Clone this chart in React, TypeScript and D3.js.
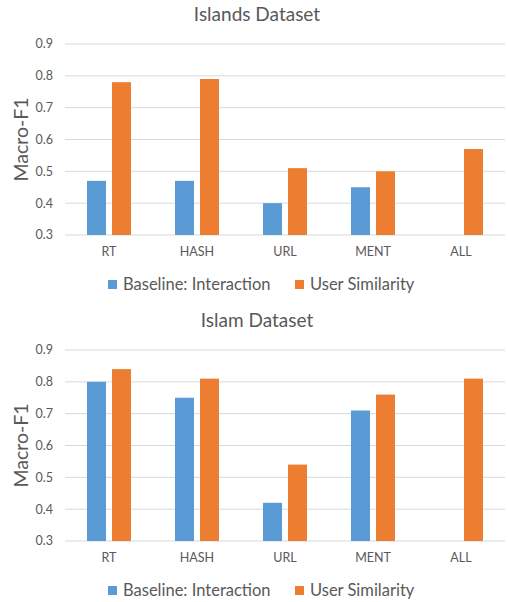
import React, { useEffect, useRef } from "react";
import * as d3 from "d3";

const categories = ["RT", "HASH", "URL", "MENT", "ALL"];
const seriesNames = ["Baseline: Interaction", "User Similarity"];
const yTicks = [0.3, 0.4, 0.5, 0.6, 0.7, 0.8, 0.9];

const islandsBaseline: (number | null)[] = [0.47, 0.47, 0.4, 0.45, null];
const islandsUser: (number | null)[] = [0.78, 0.79, 0.51, 0.5, 0.57];
const islamBaseline: (number | null)[] = [0.8, 0.75, 0.42, 0.71, null];
const islamUser: (number | null)[] = [0.84, 0.81, 0.54, 0.76, 0.81];

const colors = ["#5B9BD5", "#ED7D31"];
const FONT = "Lato, 'Open Sans', sans-serif";
const TEXT = "#595959";

function drawChart(
  g: d3.Selection<SVGGElement, unknown, null, undefined>,
  title: string,
  baseline: (number | null)[],
  user: (number | null)[]
) {
  const left = 65, right = 505, top = 44, bottom = 235;
  const x0 = d3.scaleBand<string>().domain(categories).range([left, right]).padding(0);
  const groupW = 44;
  const x1 = d3.scaleBand<string>().domain(seriesNames).range([0, groupW]).paddingInner(0.24);
  const y = d3.scaleLinear().domain([0.3, 0.9]).range([bottom, top]);

  g.append("text")
    .attr("x", 257).attr("y", 21)
    .attr("text-anchor", "middle")
    .attr("font-family", FONT).attr("font-size", 19)
    .attr("fill", TEXT)
    .text(title);

  g.selectAll(".grid").data(yTicks).enter().append("line")
    .attr("x1", left).attr("x2", right)
    .attr("y1", (d) => y(d)).attr("y2", (d) => y(d))
    .attr("stroke", "#D9D9D9").attr("stroke-width", 1);

  g.selectAll(".ytick").data(yTicks).enter().append("text")
    .attr("x", 53).attr("y", (d) => y(d))
    .attr("dy", "0.35em")
    .attr("text-anchor", "end")
    .attr("font-family", FONT).attr("font-size", 12.5)
    .attr("fill", TEXT)
    .text((d) => d3.format(".1f")(d));

  g.append("text")
    .attr("transform", `translate(28,${(top + bottom) / 2}) rotate(-90)`)
    .attr("text-anchor", "middle")
    .attr("font-family", FONT).attr("font-size", 19.5)
    .attr("fill", TEXT)
    .text("Macro-F1");

  const all = [baseline, user];
  all.forEach((vals, si) => {
    const rows = categories.map((c, i) => ({ c, v: vals[i] })).filter((r) => r.v != null);
    g.selectAll(`.bar${si}`).data(rows).enter().append("rect")
      .attr("x", (d) => (x0(d.c) as number) + (x0.bandwidth() - groupW) / 2 + (x1(seriesNames[si]) as number))
      .attr("y", (d) => y(d.v as number))
      .attr("width", x1.bandwidth())
      .attr("height", (d) => bottom - y(d.v as number))
      .attr("fill", colors[si]);
  });

  g.selectAll(".xl").data(categories).enter().append("text")
    .attr("x", (d) => (x0(d) as number) + x0.bandwidth() / 2)
    .attr("y", 256)
    .attr("text-anchor", "middle")
    .attr("font-family", FONT).attr("font-size", 12.5)
    .attr("fill", TEXT)
    .text((d) => d);

  const legendX = [108, 295];
  seriesNames.forEach((s, i) => {
    g.append("rect")
      .attr("x", legendX[i]).attr("y", 280)
      .attr("width", 9).attr("height", 9)
      .attr("fill", colors[i]);
    g.append("text")
      .attr("x", legendX[i] + 15).attr("y", 290)
      .attr("font-family", FONT).attr("font-size", 16.5)
      .attr("fill", TEXT)
      .text(s);
  });
}

export default function App() {
  const ref = useRef<SVGSVGElement>(null);
  useEffect(() => {
    const svg = d3.select(ref.current);
    svg.selectAll("*").remove();
    svg.append("rect").attr("width", 508).attr("height", 602).attr("fill", "#fff");
    const g1 = svg.append("g");
    drawChart(g1 as any, "Islands Dataset", islandsBaseline, islandsUser);
    const g2 = svg.append("g").attr("transform", "translate(0,306)");
    drawChart(g2 as any, "Islam Dataset", islamBaseline, islamUser);
  }, []);
  return (
    <svg
      ref={ref}
      width={508}
      height={602}
      style={{ position: "absolute", left: 0, top: 0 }}
    />
  );
}
